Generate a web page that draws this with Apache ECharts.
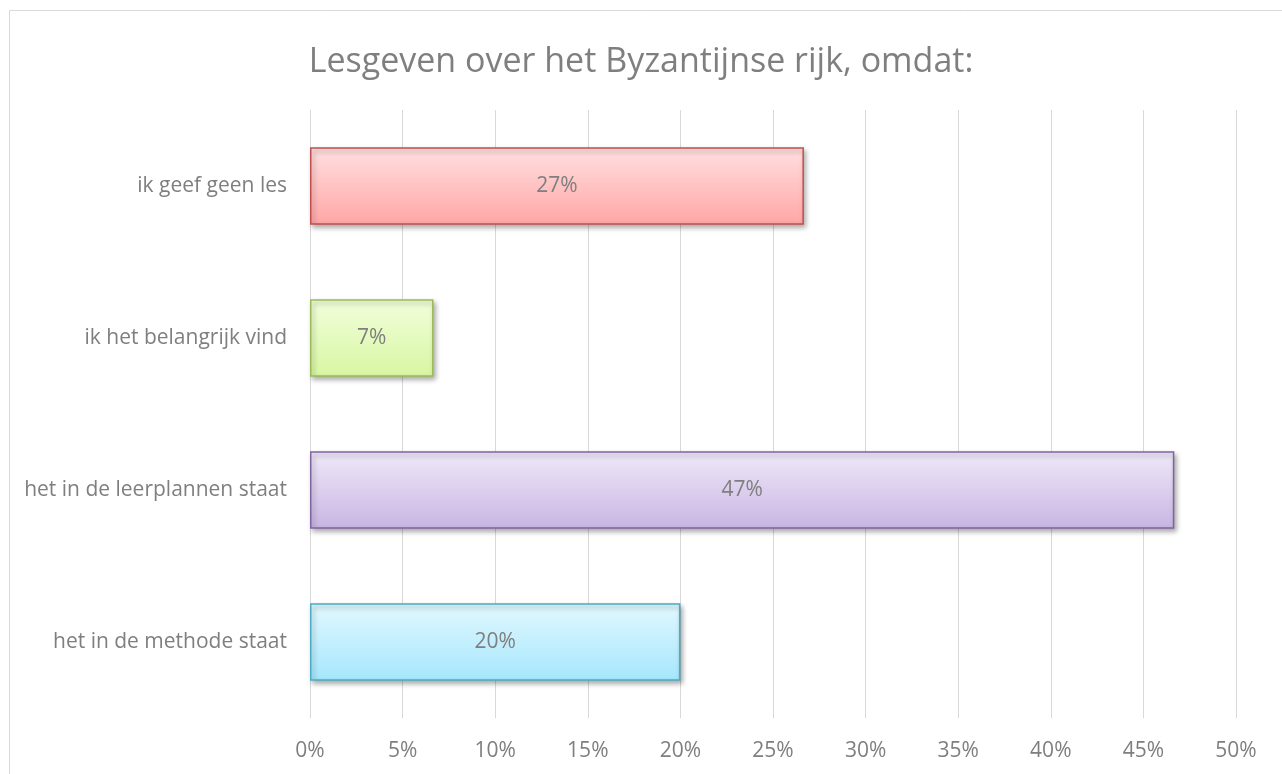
<!DOCTYPE html>
<html>
<head>
<meta charset="utf-8">
<script src="https://cdn.jsdelivr.net/npm/echarts@6/dist/echarts.min.js"></script>
<style>
  html, body { margin: 0; padding: 0; background: #fff; }
  #chart { width: 1282px; height: 774px; }
</style>
</head>
<body>
<div id="chart"></div>
<script>
// Survey answers, bottom to top as drawn on the category axis
const categories = [
  'het in de methode staat',
  'het in de leerplannen staat',
  'ik het belangrijk vind',
  'ik geef geen les'
];
const shares = [20, 46.67, 6.67, 26.67];
const tickValues = [0, 5, 10, 15, 20, 25, 30, 35, 40, 45, 50];

// Fill gradients (top, bottom) and outline colours per bar
const barTop = ['#e2f8ff', '#efe9f8', '#f1ffdc', '#ffe0e0'];
const barBottom = ['#a5e7fc', '#c8b5e3', '#d8f6a2', '#ffa6a6'];
const barEdge = ['#4bacc6', '#8064a2', '#9bbb59', '#c0504d'];

const FONT = '"Open Sans"';
const TEXT = '#7f7f7f';

const chart = echarts.init(document.getElementById('chart'));
chart.setOption({
  backgroundColor: '#ffffff',
  animation: false,
  graphic: [{
    type: 'rect',
    shape: { x: 9.5, y: 10.5, width: 1300, height: 800 },
    style: { fill: 'none', stroke: '#d9d9d9', lineWidth: 1 },
    silent: true,
    z: -10
  }],
  title: {
    text: 'Lesgeven over het Byzantijnse rijk, omdat:',
    left: 'center',
    top: 40,
    textStyle: { fontFamily: FONT, fontSize: 34, fontWeight: 'normal', color: TEXT }
  },
  grid: { left: 310, right: 46, top: 110, bottom: 56, containLabel: false },
  xAxis: {
    type: 'value',
    min: 0,
    max: 50,
    interval: 5,
    axisLine: { show: false },
    axisTick: { show: false },
    splitLine: { lineStyle: { color: '#d9d9d9', width: 1 } },
    axisLabel: {
      margin: 23,
      fontFamily: FONT,
      fontSize: 21,
      color: TEXT,
      formatter: v => tickValues.includes(v) ? v + '%' : ''
    }
  },
  yAxis: {
    type: 'category',
    data: categories,
    axisLine: { show: true, lineStyle: { color: '#d9d9d9' } },
    axisTick: { show: false },
    axisLabel: { margin: 23, fontFamily: FONT, fontSize: 21, color: TEXT }
  },
  series: [{
    type: 'bar',
    barCategoryGap: '49%',
    data: shares.map((v, i) => ({
      value: v,
      itemStyle: {
        color: new echarts.graphic.LinearGradient(0, 0, 0, 1, [
          { offset: 0, color: barTop[i] },
          { offset: 1, color: barBottom[i] }
        ]),
        borderColor: barEdge[i],
        borderWidth: 1.5,
        shadowColor: 'rgba(0,0,0,0.35)',
        shadowBlur: 5,
        shadowOffsetX: 2,
        shadowOffsetY: 3
      }
    })),
    label: {
      show: true,
      position: 'inside',
      fontFamily: FONT,
      fontSize: 21,
      color: TEXT,
      formatter: p => Math.round(p.value) + '%'
    }
  }]
});
</script>
</body>
</html>
